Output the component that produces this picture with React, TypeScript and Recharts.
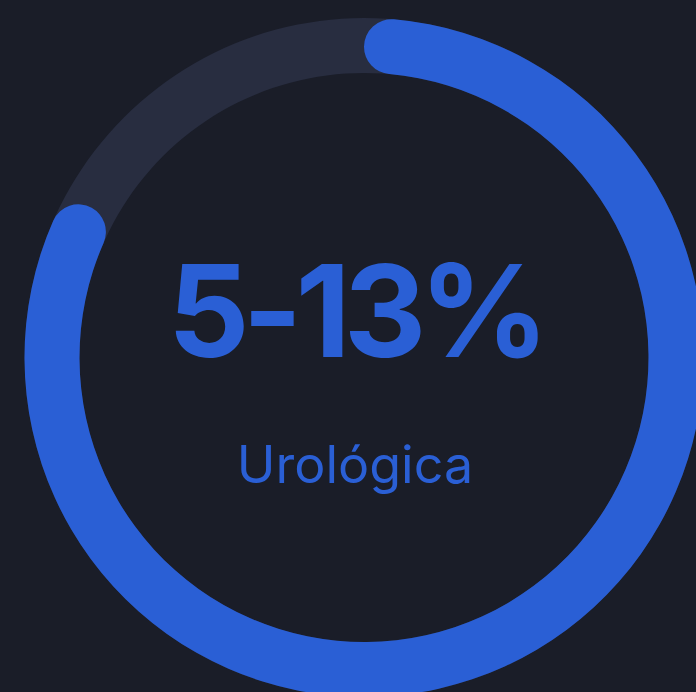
import React from 'react';
import { RadialBarChart, RadialBar, PolarAngleAxis } from 'recharts';

const labels = ['Urológica'];
const values = [83];
const headline = '5-13%';

const data = labels.map((name, i) => ({ name, value: values[i] }));

const BG = '#1a1d28';
const TRACK = '#282d40';
const BLUE = '#2a5fd5';

const App: React.FC = () => {
  return (
    <div
      style={{
        position: 'fixed',
        left: 0,
        top: 0,
        width: 696,
        height: 692,
        background: BG,
        overflow: 'hidden',
      }}
    >
      <RadialBarChart
        width={696}
        height={692}
        cx={364}
        cy={357.5}
        innerRadius={284.5}
        outerRadius={339.5}
        startAngle={90}
        endAngle={-270}
        barCategoryGap={0}
        data={data}
      >
        <PolarAngleAxis type="number" domain={[0, 100]} tick={false} axisLine={false} />
        <RadialBar
          dataKey="value"
          fill={BLUE}
          cornerRadius={27.5}
          background={{ fill: TRACK, cornerRadius: 0 }}
          isAnimationActive={false}
        />
      </RadialBarChart>
      <svg
        width={696}
        height={692}
        style={{ position: 'absolute', left: 0, top: 0, pointerEvents: 'none' }}
      >
        <text
          x={355}
          y={357}
          textAnchor="middle"
          fill={BLUE}
          fontFamily="Inter, sans-serif"
          fontWeight={700}
          fontSize={128}
          letterSpacing={-7}
        >
          {headline}
        </text>
        <text
          x={355}
          y={483}
          textAnchor="middle"
          fill={BLUE}
          fontFamily="Inter, sans-serif"
          fontWeight={400}
          fontSize={52}
        >
          {labels[0]}
        </text>
      </svg>
    </div>
  );
};

export default App;
